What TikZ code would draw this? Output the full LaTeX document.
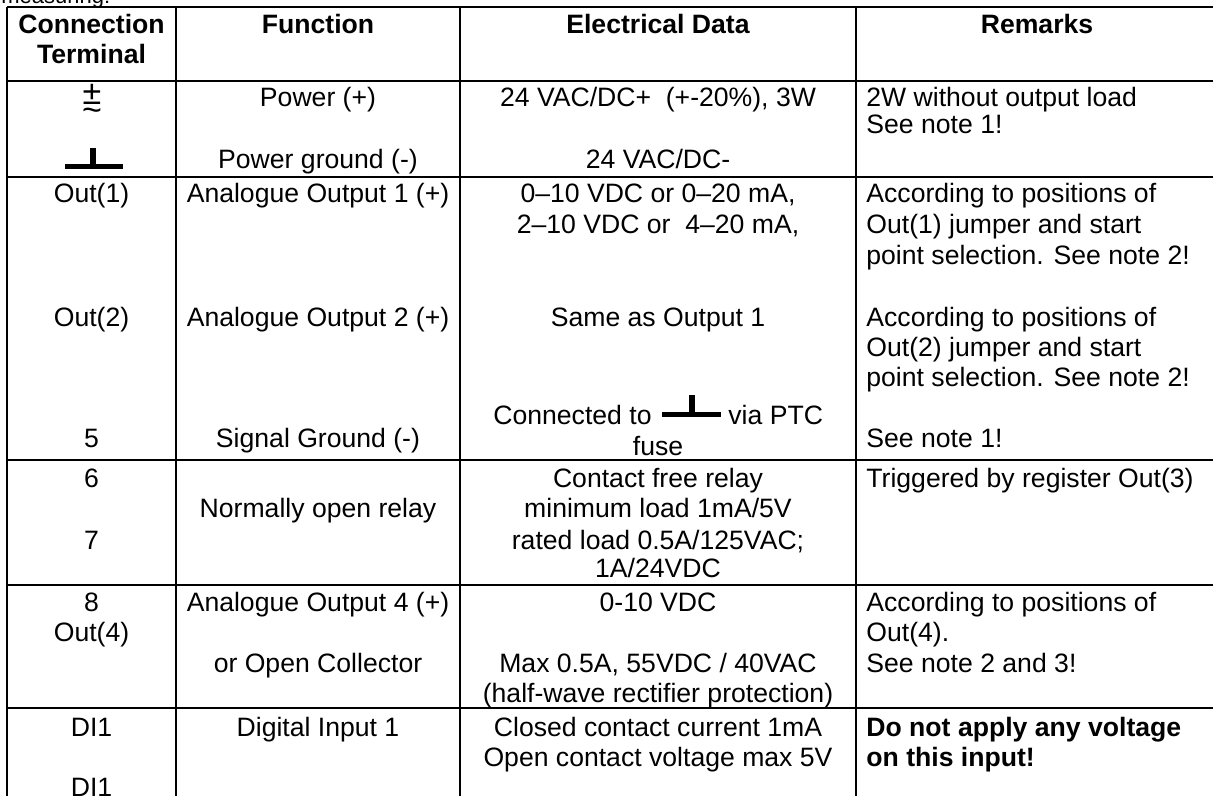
\documentclass[tikz,border=0pt]{standalone}
\usepackage{fontspec}
\setmainfont{Liberation Sans}
\usetikzlibrary{positioning}

\begin{document}
\begin{tikzpicture}[x=0.5pt, y=-0.5pt,
    every node/.style={inner sep=0pt, font=\fontsize{13.3}{15}\selectfont},
    cell/.style={anchor=base},
    rmk/.style={anchor=base west},
    head/.style={anchor=base, font=\fontsize{13.3}{15}\selectfont\bfseries},
    rule/.style={line width=1.25pt},
    gnd/.style={line width=2.5pt}]
\useasboundingbox (0,0) rectangle (1213,796);

% text cut at the top
\node[anchor=base west, font=\fontsize{11}{13}\selectfont] (intro) at (1,4) {measuring:};

% table rules
\foreach \y in {7,81,177,460,585,708}
  \draw[rule] (7,\y) -- (1218,\y);
\foreach \x in {7,176,460,856,1218}
  \draw[rule] (\x,7) -- (\x,800);

% header
\node[head] (hTerm) at (91.5,34) {Connection};
\node[head] (hTerm2) at (91.5,64) {Terminal};
\node[head] (hFunc) at (318,34) {Function};
\node[head] (hElec) at (658,34) {Electrical Data};
\node[head] (hRmk) at (1037,34) {Remarks};

% terminals
\node[cell, font=\fontsize{17}{17}\selectfont] (plus) at (92,105) {±};
\node[cell, font=\fontsize{17}{17}\selectfont] (tilde) at (92,122) {\textasciitilde};
\draw[gnd] (65,167) -- (123,167);
\draw[line width=3.25pt] (93,148) -- (93,167);
\foreach \y/\t [count=\i] in {203/{Out(1)}, 326/{Out(2)}, 447/{5}, 487/{6}, 549/{7},
    611/{8}, 641/{Out(4)}, 736/{DI1}, 796/{DI1}}
  \node[cell] (term\i) at (91.5,\y) {\t};

% function
\foreach \y/\t [count=\i] in {107/{Power (+)}, 169/{Power ground (-)},
    203/{Analogue Output 1 (+)}, 326/{Analogue Output 2 (+)}, 447/{Signal Ground (-)},
    517/{Normally open relay}, 611/{Analogue Output 4 (+)}, 672/{or Open Collector},
    736/{Digital Input 1}}
  \node[cell] (func\i) at (318,\y) {\t};

% electrical data
\foreach \y/\t [count=\i] in {107/{24 VAC/DC+\ \ (+-20\%), 3W}, 169/{24 VAC/DC-},
    203/{0--10 VDC or 0--20 mA,}, 234/{2--10 VDC or\ \ 4--20 mA,}, 326/{Same as Output 1},
    455/{fuse}, 487/{Contact free relay}, 517/{minimum load 1mA/5V},
    549/{rated load 0.5A/125VAC;}, 577/{1A/24VDC}, 611/{0-10 VDC},
    672/{Max 0.5A, 55VDC / 40VAC}, 702/{(half-wave rectifier protection)},
    736/{Closed contact current 1mA}, 766/{Open contact voltage max 5V}}
  \node[cell] (elec\i) at (658,\y) {\t};
\node[anchor=base east] (ptcL) at (652,424) {Connected to};
\node[anchor=base west] (ptcR) at (728,424) {via PTC};
\draw[gnd] (662,414) -- (721,414);
\draw[line width=3pt] (692,395) -- (692,414);

% remarks
\foreach \y/\t [count=\i] in {107/{2W without output load}, 134/{See note 1!},
    203/{According to positions of}, 234/{Out(1) jumper and start},
    264/{point selection. See note 2!}, 326/{According to positions of},
    356/{Out(2) jumper and start}, 386/{point selection. See note 2!},
    447/{See note 1!}, 487/{Triggered by register Out(3)},
    611/{According to positions of}, 641/{Out(4).}, 672/{See note 2 and 3!}}
  \node[rmk] (rmk\i) at (866,\y) {\t};
\node[rmk, font=\fontsize{13.3}{15}\selectfont\bfseries] (warn1) at (866,736) {Do not apply any voltage};
\node[rmk, font=\fontsize{13.3}{15}\selectfont\bfseries] (warn2) at (866,766) {on this input!};
\end{tikzpicture}
\end{document}
